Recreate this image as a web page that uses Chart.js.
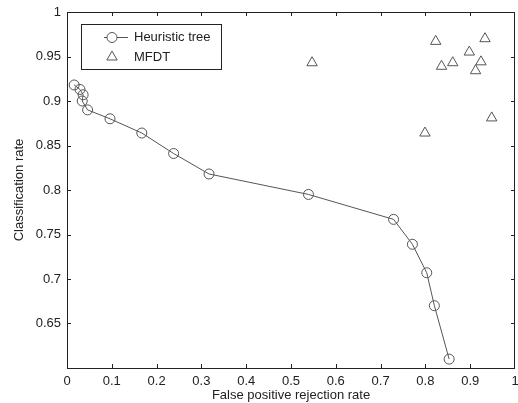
<!DOCTYPE html>
<html>
<head>
<meta charset="utf-8">
<script src="https://cdn.jsdelivr.net/npm/chart.js@4/dist/chart.umd.min.js"></script>
<style>
html,body{margin:0;padding:0;background:#fff;}
#wrap{width:518px;height:403px;}
</style>
</head>
<body>
<div id="wrap"><canvas id="c" width="518" height="403"></canvas></div>
<script>
const heuristicX = [0.016,0.029,0.036,0.034,0.046,0.096,0.167,0.238,0.317,0.539,0.729,0.771,0.803,0.820,0.853];
const heuristicY = [0.918,0.913,0.907,0.900,0.890,0.880,0.864,0.841,0.818,0.795,0.767,0.739,0.707,0.670,0.610];
const mfdtX = [0.547,0.799,0.823,0.836,0.861,0.898,0.912,0.924,0.933,0.948];
const mfdtY = [0.943,0.864,0.967,0.939,0.943,0.955,0.934,0.944,0.970,0.881];
const seriesNames = ["Heuristic tree","MFDT"];
const xTicks = [0,0.1,0.2,0.3,0.4,0.5,0.6,0.7,0.8,0.9,1];
const yTicks = [0.6,0.65,0.7,0.75,0.8,0.85,0.9,0.95,1];
const xTitle = "False positive rejection rate";
const yTitle = "Classification rate";

const FONT = "'Liberation Sans', Arial, sans-serif";
const INK = "#222";
const MARK = "#555";

const frame = {
  id:'frame',
  afterDraw(chart){
    const {ctx, chartArea:a, scales:{x,y}} = chart;
    ctx.save();
    ctx.strokeStyle = INK; ctx.lineWidth = 1;
    ctx.beginPath();
    ctx.rect(Math.round(a.left)+0.5, Math.round(a.top)+0.5, Math.round(a.right-a.left)-1, Math.round(a.bottom-a.top));
    ctx.stroke();
    ctx.beginPath();
    xTicks.forEach(v=>{
      const px = Math.min(Math.round(x.getPixelForValue(v)), Math.round(a.right)-1)+0.5;
      ctx.moveTo(px, a.bottom); ctx.lineTo(px, a.bottom-4);
      ctx.moveTo(px, a.top); ctx.lineTo(px, a.top+4);
    });
    yTicks.forEach(v=>{
      const py = Math.round(y.getPixelForValue(v))+0.5;
      ctx.moveTo(a.left, py); ctx.lineTo(a.left+4, py);
      ctx.moveTo(a.right, py); ctx.lineTo(a.right-4, py);
    });
    ctx.stroke();
    // legend
    const lx = 81, ly = 24, lw = 140, lh = 45;
    ctx.fillStyle = '#fff';
    ctx.fillRect(lx, ly, lw, lh);
    ctx.strokeRect(lx+0.5, ly+0.5, lw, lh);
    ctx.font = "13px " + FONT;
    ctx.fillStyle = INK; ctx.textBaseline = 'middle'; ctx.textAlign = 'left';
    ctx.strokeStyle = MARK;
    ctx.beginPath(); ctx.moveTo(104, 37.5); ctx.lineTo(128, 37.5); ctx.stroke();
    ctx.fillStyle = '#fff';
    ctx.beginPath(); ctx.arc(112, 37.5, 5, 0, Math.PI*2); ctx.fill(); ctx.stroke();
    ctx.fillStyle = INK;
    ctx.fillText(seriesNames[0], 134, 37);
    const r = 6, cx = 112, cy = 57;
    ctx.beginPath();
    ctx.moveTo(cx, cy - r);
    ctx.lineTo(cx + r*0.866, cy + r*0.5);
    ctx.lineTo(cx - r*0.866, cy + r*0.5);
    ctx.closePath(); ctx.stroke();
    ctx.fillText(seriesNames[1], 134, 57);
    ctx.restore();
  }
};

new Chart(document.getElementById('c'), {
  type:'scatter',
  data:{
    datasets:[
      {label:seriesNames[0], data:heuristicX.map((v,i)=>({x:v,y:heuristicY[i]})),
       showLine:true, borderColor:MARK, borderWidth:1, pointStyle:'circle', pointRadius:5,
       pointBorderColor:MARK, pointBackgroundColor:'rgba(0,0,0,0)', pointBorderWidth:1, tension:0},
      {label:seriesNames[1], data:mfdtX.map((v,i)=>({x:v,y:mfdtY[i]})),
       showLine:false, pointStyle:'triangle', pointRadius:6,
       pointBorderColor:MARK, pointBackgroundColor:'rgba(0,0,0,0)', pointBorderWidth:1}
    ]
  },
  options:{
    responsive:false, animation:false, devicePixelRatio:1,
    layout:{autoPadding:false, padding:{top:12,right:3,left:0,bottom:0}},
    plugins:{legend:{display:false}, tooltip:{enabled:false}},
    scales:{
      x:{type:'linear', min:0, max:1,
         afterBuildTicks(s){ s.ticks = xTicks.map(v=>({value:v})); },
         afterFit(s){ s.height = 35; s.paddingLeft = 0; s.paddingRight = 0; },
         grid:{display:false, drawTicks:false}, border:{display:false},
         ticks:{color:INK, font:{family:FONT,size:13}, padding:6, maxRotation:0,
                callback:v=>String(+v.toFixed(2))},
         title:{display:true, text:xTitle, color:INK, font:{family:FONT,size:13}, padding:{top:2,bottom:0}}
      },
      y:{type:'linear', min:0.6, max:1,
         afterBuildTicks(s){ s.ticks = yTicks.map(v=>({value:v})); },
         afterFit(s){ s.width = 67; s.paddingTop = 0; s.paddingBottom = 0; },
         grid:{display:false, drawTicks:false}, border:{display:false},
         ticks:{color:INK, font:{family:FONT,size:13}, padding:6,
                callback:v=> (Math.abs(v-0.6)<1e-9 ? '' : String(+v.toFixed(2)))},
         title:{display:true, text:yTitle, color:INK, font:{family:FONT,size:13}, padding:{top:12,bottom:0}}
      }
    }
  },
  plugins:[frame]
});
</script>
</body>
</html>
